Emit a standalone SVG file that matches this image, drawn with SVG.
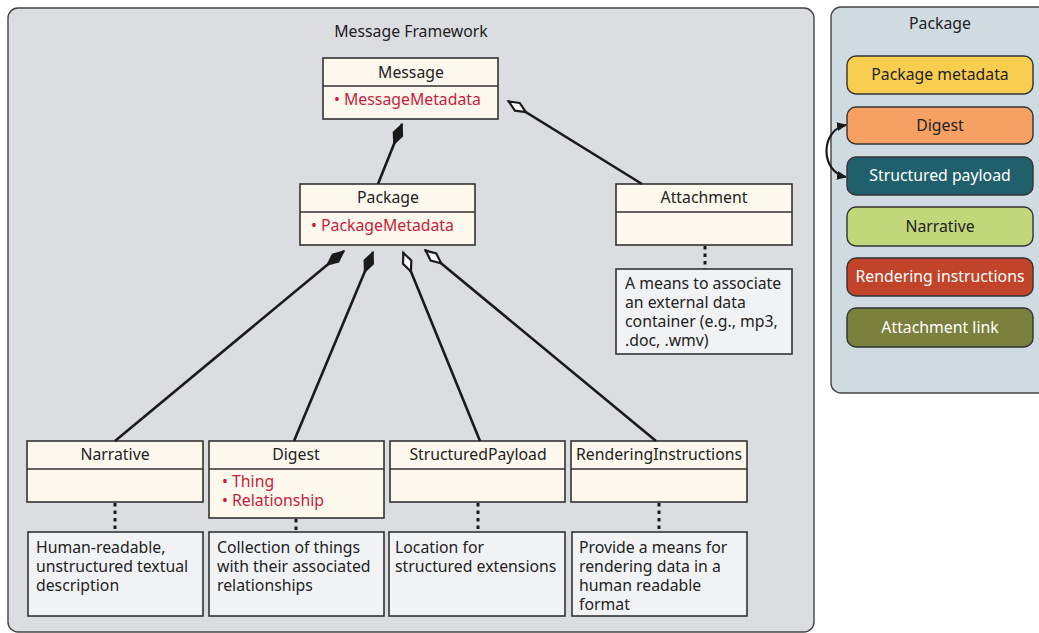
<svg xmlns="http://www.w3.org/2000/svg" width="1039" height="633" viewBox="0 0 1039 633">
<style>
text{font-family:"Noto Sans","Open Sans","Liberation Sans",sans-serif;font-size:15.8px;fill:#222}
.c{text-anchor:middle}
.red{fill:#c41e3a}
.w{fill:#fff}
.cls{fill:#fcf8ee;stroke:#333;stroke-width:1.6}
.note{fill:#f1f2f4;stroke:#333;stroke-width:1.6}
.link{fill:none;stroke:#1a1a1a;stroke-width:2.6}
.dot{fill:none;stroke:#1a1a1a;stroke-width:3;stroke-dasharray:3.5 4}
.pill{stroke:#333;stroke-width:1.4}
</style>
<defs>
<marker id="fd" markerUnits="userSpaceOnUse" viewBox="-2 -7 26 14" markerWidth="26" markerHeight="14" refX="0" refY="0" orient="auto"><path d="M0,0 L11,-5 L22,0 L11,5 Z" fill="#1a1a1a" stroke="#1a1a1a" stroke-width="1.2"/></marker>
<marker id="hd" markerUnits="userSpaceOnUse" viewBox="-2 -7 26 14" markerWidth="26" markerHeight="14" refX="0" refY="0" orient="auto"><path d="M1,0 L11,-4.5 L21,0 L11,4.5 Z" fill="#fff" stroke="#1a1a1a" stroke-width="2.2"/></marker>
<marker id="ah" markerUnits="userSpaceOnUse" viewBox="0 -5 10 10" markerWidth="10" markerHeight="10" refX="9" refY="0" orient="auto-start-reverse"><path d="M0,-4.5 L10,0 L0,4.5 Z" fill="#1a1a1a"/></marker>
</defs>

<g id="frame">
<rect x="8" y="8" width="806" height="624" rx="10" fill="#dcdde0" stroke="#444" stroke-width="1.4"/>
<text class="c" x="411" y="37">Message Framework</text>
</g>

<g id="message">
<rect class="cls" x="323" y="58" width="175" height="61"/>
<line x1="323" y1="86" x2="498" y2="86" stroke="#333" stroke-width="1.6"/>
<text class="c" x="411" y="78">Message</text>
<text class="red" x="334" y="105">• MessageMetadata</text>
</g>

<g id="package">
<rect class="cls" x="300" y="184" width="175" height="61"/>
<line x1="300" y1="212" x2="475" y2="212" stroke="#333" stroke-width="1.6"/>
<text class="c" x="388" y="203">Package</text>
<text class="red" x="311" y="231">• PackageMetadata</text>
</g>

<g id="attachment">
<rect class="cls" x="616" y="184" width="176" height="61"/>
<line x1="616" y1="212" x2="792" y2="212" stroke="#333" stroke-width="1.6"/>
<text class="c" x="704" y="203">Attachment</text>
</g>

<g id="attachment-note">
<rect class="note" x="616" y="269" width="176" height="85"/>
<text x="625" y="289">A means to associate</text>
<text x="625" y="308">an external data</text>
<text x="625" y="327">container (e.g., mp3,</text>
<text x="625" y="346">.doc, .wmv)</text>
</g>

<g id="narrative">
<rect class="cls" x="27" y="441" width="176" height="61"/>
<line x1="27" y1="469" x2="203" y2="469" stroke="#333" stroke-width="1.6"/>
<text class="c" x="115" y="460">Narrative</text>
</g>

<g id="digest">
<rect class="cls" x="209" y="441" width="175" height="77"/>
<line x1="209" y1="469" x2="384" y2="469" stroke="#333" stroke-width="1.6"/>
<text class="c" x="296" y="460">Digest</text>
<text class="red" x="222" y="487">• Thing</text>
<text class="red" x="222" y="506">• Relationship</text>
</g>

<g id="structuredpayload">
<rect class="cls" x="390" y="441" width="175" height="61"/>
<line x1="390" y1="469" x2="565" y2="469" stroke="#333" stroke-width="1.6"/>
<text class="c" x="478" y="460">StructuredPayload</text>
</g>

<g id="renderinginstructions">
<rect class="cls" x="571" y="441" width="176" height="61"/>
<line x1="571" y1="469" x2="747" y2="469" stroke="#333" stroke-width="1.6"/>
<text class="c" x="659" y="460">RenderingInstructions</text>
</g>

<g id="narrative-note">
<rect class="note" x="28" y="532" width="175" height="84"/>
<text x="36" y="553">Human-readable,</text>
<text x="36" y="572">unstructured textual</text>
<text x="36" y="591">description</text>
</g>

<g id="digest-note">
<rect class="note" x="209" y="532" width="175" height="84"/>
<text x="217" y="553">Collection of things</text>
<text x="217" y="572">with their associated</text>
<text x="217" y="591">relationships</text>
</g>

<g id="structuredpayload-note">
<rect class="note" x="389" y="532" width="176" height="84"/>
<text x="395" y="553">Location for</text>
<text x="395" y="572">structured extensions</text>
</g>

<g id="renderinginstructions-note">
<rect class="note" x="572" y="532" width="175" height="84"/>
<text x="579" y="553">Provide a means for</text>
<text x="579" y="572">rendering data in a</text>
<text x="579" y="591">human readable</text>
<text x="579" y="610">format</text>
</g>

<g id="package-panel">
<rect x="831" y="7" width="220" height="386" rx="10" fill="#cfdae1" stroke="#444" stroke-width="1.4"/>
<text class="c" x="940" y="29">Package</text>
</g>

<g id="pill-metadata">
<rect class="pill" x="847" y="56" width="186" height="38" rx="9" fill="#f9cd4e"/>
<text class="c" x="940" y="80">Package metadata</text>
</g>
<g id="pill-digest">
<rect class="pill" x="847" y="107" width="186" height="37" rx="9" fill="#f6a163"/>
<text class="c" x="940" y="131">Digest</text>
</g>
<g id="pill-structured">
<rect class="pill" x="847" y="157" width="186" height="38" rx="9" fill="#20606c"/>
<text class="c w" x="940" y="181">Structured payload</text>
</g>
<g id="pill-narrative">
<rect class="pill" x="847" y="207" width="186" height="39" rx="9" fill="#c2d67a"/>
<text class="c" x="940" y="232">Narrative</text>
</g>
<g id="pill-rendering">
<rect class="pill" x="847" y="258" width="186" height="38" rx="9" fill="#c1432a"/>
<text class="c w" x="940" y="282">Rendering instructions</text>
</g>
<g id="pill-attachment">
<rect class="pill" x="847" y="308" width="186" height="39" rx="9" fill="#7b813c"/>
<text class="c w" x="940" y="333">Attachment link</text>
</g>

<g id="connectors">
<path class="link" d="M402,124 L378,184" marker-start="url(#fd)"/>
<path class="link" d="M508,101 L642,184" marker-start="url(#hd)"/>
<path class="link" d="M344,251 L115,441" marker-start="url(#fd)"/>
<path class="link" d="M373,252 L294,441" marker-start="url(#fd)"/>
<path class="link" d="M403,252 L480,441" marker-start="url(#hd)"/>
<path class="link" d="M425,250 L656,441" marker-start="url(#hd)"/>
<path class="dot" d="M705,246 L705,269"/>
<path class="dot" d="M115,503 L115,532"/>
<path class="dot" d="M296,519 L296,532"/>
<path class="dot" d="M478,503 L478,532"/>
<path class="dot" d="M659,503 L659,532"/>
<path d="M846,125 C820,130 820,172 846,177" fill="none" stroke="#1a1a1a" stroke-width="2.2" marker-start="url(#ah)" marker-end="url(#ah)"/>
</g>
</svg>
